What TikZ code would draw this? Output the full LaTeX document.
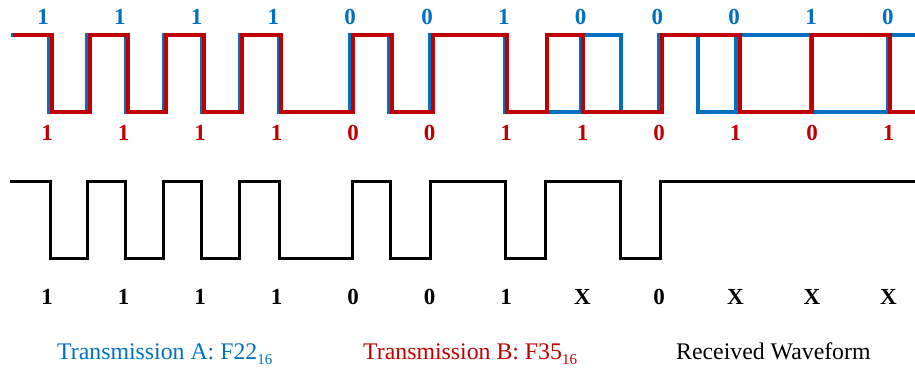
\documentclass[tikz,border=0pt]{standalone}
\usepackage{fontspec}
\setmainfont{Liberation Serif}
\definecolor{cA}{RGB}{0,112,192}
\definecolor{cB}{RGB}{192,0,0}
\begin{document}
\begin{tikzpicture}[x=1pt,y=-1pt,
  wave/.style={line width=3.4pt, line join=miter, line cap=butt},
  rwave/.style={line width=3pt, line join=miter, black},
  bitlbl/.style={inner sep=0pt, font=\fontsize{23}{23}\selectfont\bfseries},
  legend/.style={inner sep=0pt, anchor=base west, font=\fontsize{23.8}{24}\selectfont}]
\path[use as bounding box] (0,0) rectangle (915,370);
% Transmission A (blue)
\draw[wave,cA] (11,35) -| (49,112) -| (87,35) -| (126,112) -| (164,35) -| (202,112) -| (240,35) -| (279,112) -| (350,35) -| (389,112) -| (430,35) -| (505,112) -| (581,35) -| (621,112) -| (659,35) -| (698,112) -| (736,35) -| (811,112) -| (888,35) -- (915,35);
% Transmission B (red)
\draw[wave,cB] (13,35) -| (52,112) -| (90,35) -| (128,112) -| (166,35) -| (204,112) -| (242,35) -| (281,112) -| (353,35) -| (392,112) -| (433,35) -| (507,112) -| (547,35) -| (583,112) -| (662,35) -| (740,112) -| (812,35) -| (890,112) -- (915,112);
% Received waveform
\draw[rwave] (10,181) -| (50,258) -| (87,181) -| (125,258) -| (163,181) -| (201,258) -| (239,181) -| (279,258) -| (352,181) -| (390,258) -| (430,181) -| (505,258) -| (545,181) -| (620,258) -| (660,181) -- (915,181);
% bit labels
\foreach \b [count=\i] in {1,1,1,1,0,0,1,0,0,0,1,0}
  \node[bitlbl,text=cA] (a\i) at ({43+76.8*(\i-1)},17) {\b};
\foreach \b [count=\i] in {1,1,1,1,0,0,1,1,0,1,0,1}
  \node[bitlbl,text=cB] (b\i) at ({47+76.5*(\i-1)},133) {\b};
\foreach \b [count=\i] in {1,1,1,1,0,0,1,X,0,X,X,X}
  \node[bitlbl,text=black] (r\i) at ({47+76.5*(\i-1)},297) {\b};
% legend
\node[legend,text=cA] (legA) at (57,359) {Transmission A: F22{\fontsize{15}{15}\selectfont\raisebox{-5pt}{16}}};
\node[legend,text=cB] (legB) at (363,359) {Transmission B: F35{\fontsize{15}{15}\selectfont\raisebox{-5pt}{16}}};
\node[legend,text=black] (legR) at (676,359) {Received Waveform};
\end{tikzpicture}
\end{document}
